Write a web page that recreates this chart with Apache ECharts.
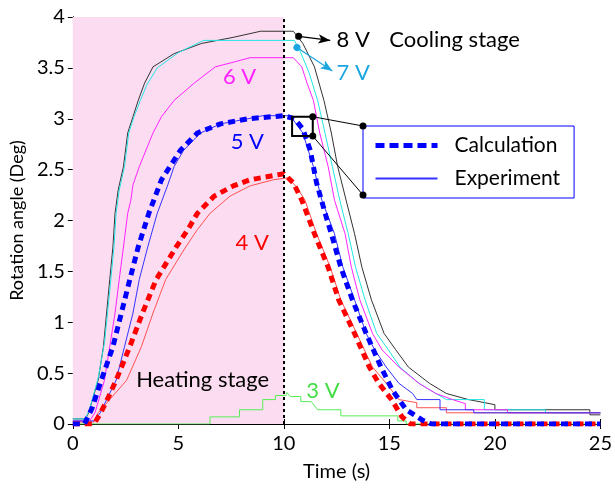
<!DOCTYPE html>
<html>
<head>
<meta charset="utf-8">
<script src="https://cdn.jsdelivr.net/npm/echarts@6/dist/echarts.min.js"></script>
<style>
html, body { margin: 0; padding: 0; background: #fff; }
#main { width: 615px; height: 493px; }
</style>
</head>
<body>
<div id="main"></div>
<script>
// measured curves, [time (s), angle (deg)]
var exp8V = [[0,0.05],[0.6,0.05],[0.75,0.11],[1.2,0.43],[1.45,0.76],[1.6,1.09],[1.75,1.42],[1.9,1.74],[2.0,2.07],[2.15,2.3],[2.4,2.53],[2.6,2.86],[2.85,3.02],[3.1,3.18],[3.4,3.35],[3.8,3.51],[4.8,3.64],[6.1,3.74],[7.6,3.8],[8.9,3.86],[10.45,3.86],[10.9,3.74],[11.45,3.51],[11.9,3.18],[12.25,2.86],[12.55,2.53],[12.95,2.2],[13.35,1.87],[13.7,1.54],[14.15,1.22],[14.75,0.89],[15.3,0.73],[15.9,0.56],[16.9,0.4],[17.7,0.3],[18.75,0.24],[20,0.19],[20,0.14],[24.5,0.14],[24.5,0.09],[25,0.09]];
var exp7V = [[0,0.05],[0.6,0.05],[0.8,0.15],[1.2,0.45],[1.5,0.8],[1.65,1.1],[1.8,1.42],[1.95,1.74],[2.05,2.07],[2.2,2.3],[2.45,2.53],[2.65,2.86],[2.9,3.02],[3.2,3.18],[3.5,3.33],[4.0,3.5],[5.0,3.65],[6.2,3.77],[10.5,3.77],[10.8,3.65],[11.2,3.45],[11.6,3.18],[11.95,2.86],[12.3,2.53],[12.65,2.2],[13.05,1.87],[13.4,1.54],[13.85,1.22],[14.4,0.89],[14.95,0.73],[15.5,0.56],[16.4,0.4],[17.2,0.3],[17.7,0.24],[19.5,0.24],[19.5,0.14],[22.4,0.14],[22.4,0.11],[25,0.11]];
var exp6V = [[0,0.03],[0.8,0.03],[1.05,0.11],[1.5,0.43],[1.75,0.76],[2.0,1.09],[2.2,1.42],[2.4,1.74],[2.6,2.07],[2.75,2.2],[2.85,2.35],[3.15,2.53],[3.8,2.86],[4.2,3.02],[4.8,3.18],[5.75,3.35],[6.75,3.51],[7.5,3.55],[8.4,3.6],[10.45,3.6],[10.85,3.51],[11.1,3.35],[11.4,3.18],[11.7,2.86],[12.1,2.53],[12.4,2.2],[12.9,1.87],[13.2,1.54],[13.6,1.22],[14.2,0.89],[14.65,0.73],[15.45,0.56],[16.4,0.4],[17.2,0.3],[18.0,0.24],[18.6,0.2],[18.6,0.14],[20.6,0.14],[20.6,0.11],[25,0.11]];
var exp5V = [[0,0.03],[1.0,0.03],[1.3,0.11],[2.05,0.43],[2.45,0.76],[2.85,1.09],[3.15,1.42],[3.55,1.74],[4.0,2.07],[4.5,2.35],[4.8,2.53],[5.25,2.69],[6.05,2.86],[7.0,2.95],[8.3,3.0],[9.0,3.03],[10.3,3.03],[10.9,2.86],[11.4,2.53],[11.8,2.2],[12.4,1.87],[12.8,1.54],[13.35,1.22],[13.9,0.89],[14.3,0.73],[14.85,0.56],[15.45,0.4],[16.1,0.3],[16.3,0.24],[17.4,0.24],[17.4,0.14],[19.0,0.14],[19.0,0.11],[25,0.11]];
var exp4V = [[0,0.02],[1.0,0.02],[1.2,0.11],[2.55,0.43],[3.25,0.76],[3.8,1.09],[4.4,1.42],[5.35,1.74],[5.9,1.91],[6.5,2.07],[7.45,2.24],[8.4,2.34],[9.5,2.4],[10.2,2.42],[10.6,2.33],[11.0,2.2],[11.55,1.87],[12.2,1.54],[12.7,1.22],[13.45,0.89],[14.2,0.56],[14.85,0.4],[15.45,0.24],[16.3,0.21],[16.3,0.16],[17.7,0.16],[17.7,0.11],[25,0.11]];
var exp3V = [[0,0],[6.5,0],[6.5,0.07],[7.9,0.07],[7.9,0.14],[9.0,0.14],[9.0,0.24],[9.6,0.24],[9.6,0.28],[10.1,0.28],[10.15,0.31],[10.3,0.27],[10.8,0.27],[10.8,0.22],[11.3,0.22],[11.6,0.14],[12.7,0.14],[12.7,0.08],[15.4,0.08],[15.4,0.03],[15.8,0.03],[15.8,0],[25,0]];
// calculated curves
var calc5V = [[0,0],[0.55,0],[0.9,0.15],[1.35,0.43],[1.9,0.76],[2.3,1.09],[2.7,1.42],[3.1,1.74],[3.6,2.07],[4.2,2.4],[4.6,2.53],[5.1,2.69],[5.9,2.86],[7.0,2.95],[8.3,3.0],[10,3.03],[10.5,3.0],[10.9,2.9],[11.25,2.69],[11.55,2.37],[12.0,2.04],[12.25,1.87],[12.7,1.54],[13.25,1.22],[13.9,0.89],[14.6,0.56],[15.15,0.33],[15.8,0.14],[16.55,0.04],[17,0],[25,0]];
var calc4V = [[0,0],[1.0,0],[1.3,0.1],[1.7,0.27],[2.05,0.43],[2.7,0.76],[3.3,1.09],[3.95,1.42],[4.9,1.74],[5.45,1.91],[5.9,2.07],[6.7,2.24],[7.6,2.34],[8.4,2.4],[10,2.46],[10.45,2.37],[10.85,2.2],[11.45,1.87],[12.1,1.54],[12.6,1.22],[13.35,0.89],[14.05,0.56],[14.5,0.4],[15.1,0.24],[15.6,0.07],[16,0],[25,0]];

var heatEnd = 10;
var zoomBox = [[10.39, 3.02], [11.37, 2.83]];

var chart = echarts.init(document.getElementById('main'));
var font = 'Lato';

function thin(name, color, data) {
    return {
        name: name, type: 'line', data: data, symbol: 'none', z: 3,
        lineStyle: { color: color, width: 1 }, itemStyle: { color: color }
    };
}
function dotted(name, color, data) {
    return {
        name: name, type: 'line', data: data, symbol: 'none', z: 4,
        lineStyle: { color: color, width: 5, type: [7, 5] }, itemStyle: { color: color }
    };
}

var series = [
    thin('3 V', '#55ee55', exp3V),
    thin('8 V', '#333333', exp8V),
    thin('7 V', '#22e5e5', exp7V),
    thin('6 V', '#ff22ff', exp6V),
    thin('4 V', '#ff5050', exp4V),
    thin('Experiment', '#3333ff', exp5V),
    dotted('4 V calc', '#ff0000', calc4V),
    dotted('Calculation', '#0000ff', calc5V)
];
series[0].markArea = {
    silent: true, itemStyle: { color: '#fcdcf0' },
    data: [[{ xAxis: 0 }, { xAxis: heatEnd }]]
};
series[0].markLine = {
    silent: true, symbol: 'none', label: { show: false },
    lineStyle: { color: '#000', width: 2, type: [3, 3] },
    data: [{ xAxis: heatEnd }]
};
// arrows from the 8 V and 7 V curves to their labels
series[1].markLine = {
    silent: true, symbol: ['circle', 'arrow'], symbolSize: [7, 12], label: { show: false },
    lineStyle: { color: '#000', width: 1.2, type: 'solid' },
    data: [[{ coord: [10.7, 3.81] }, { coord: [12.2, 3.77] }]]
};
series[2].markLine = {
    silent: true, symbol: ['circle', 'arrow'], symbolSize: [7, 12], label: { show: false },
    lineStyle: { color: '#1aa6e0', width: 1.2, type: 'solid' },
    data: [[{ coord: [10.62, 3.7] }, { coord: [12.3, 3.47] }]]
};

chart.setOption({
    animation: false,
    grid: { left: 71, right: 12, top: 17, bottom: 69 },
    xAxis: [{
        type: 'value', min: 0, max: 25, interval: 5,
        name: 'Time (s)', nameLocation: 'middle', nameGap: 38,
        nameTextStyle: { fontFamily: font, fontSize: 20, color: '#000' },
        axisLine: { lineStyle: { color: '#000', width: 1 } },
        axisTick: { inside: true, length: 5, lineStyle: { color: '#000' } },
        axisLabel: { fontFamily: font, fontSize: 20, color: '#000', margin: 10 },
        splitLine: { show: false }
    }, {
        type: 'value', min: 0, max: 25, interval: 5, position: 'top',
        axisLine: { lineStyle: { color: '#000', width: 1 } },
        axisTick: { inside: true, length: 5, lineStyle: { color: '#000' } },
        axisLabel: { show: false }, splitLine: { show: false }
    }],
    yAxis: [{
        type: 'value', min: 0, max: 4, interval: 0.5,
        name: 'Rotation angle (Deg)', nameLocation: 'middle', nameGap: 42,
        nameTextStyle: { fontFamily: font, fontSize: 18, color: '#000' },
        axisLine: { show: true, lineStyle: { color: '#000', width: 1 } },
        axisTick: { show: true, inside: true, length: 5, lineStyle: { color: '#000' } },
        axisLabel: { fontFamily: font, fontSize: 20, color: '#000', margin: 8 },
        splitLine: { show: false }
    }, {
        type: 'value', min: 0, max: 4, interval: 0.5, position: 'right',
        axisLine: { show: true, lineStyle: { color: '#000', width: 1 } },
        axisTick: { show: true, inside: true, length: 5, lineStyle: { color: '#000' } },
        axisLabel: { show: false }, splitLine: { show: false }
    }],
    legend: {
        data: [
            { name: 'Calculation', lineStyle: { width: 5, type: [9, 5] } },
            { name: 'Experiment' }
        ],
        orient: 'vertical', left: 363, top: 126,
        padding: [9, 14, 9, 10], itemGap: 12,
        itemWidth: 62, itemHeight: 14,
        itemStyle: { opacity: 0 },
        borderColor: '#0000ff', borderWidth: 1, backgroundColor: '#fff',
        textStyle: { fontFamily: font, fontSize: 21, color: '#000', padding: [0, 0, 0, 12] },
        selectedMode: false
    },
    series: series
});

// text labels and the zoom box, placed in data coordinates
function px(t, v) { return chart.convertToPixel({ gridIndex: 0 }, [t, v]); }
var notes = [
    ['8 V', 12.5, 3.77, '#000', 'left'],
    ['Cooling stage', 15.0, 3.77, '#000', 'left'],
    ['7 V', 12.5, 3.45, '#1aa6e0', 'left'],
    ['6 V', 7.9, 3.41, '#ff22ff', 'center'],
    ['5 V', 8.27, 2.77, '#0000ff', 'center'],
    ['4 V', 8.5, 1.78, '#ff0000', 'center'],
    ['3 V', 11.85, 0.33, '#44dd44', 'center'],
    ['Heating stage', 3.0, 0.43, '#000', 'left']
];
var graphics = notes.map(function (n) {
    var p = px(n[1], n[2]);
    return {
        type: 'text', x: p[0], y: p[1], z: 10,
        style: { text: n[0], fill: n[3], font: '22px ' + font, align: n[4], verticalAlign: 'middle' }
    };
});
var a = px(zoomBox[0][0], zoomBox[0][1]);
var b = px(zoomBox[1][0], zoomBox[1][1]);
graphics.push({
    type: 'rect', z: 10,
    shape: { x: a[0], y: a[1], width: b[0] - a[0], height: b[1] - a[1] },
    style: { fill: 'none', stroke: '#000', lineWidth: 2 }
});
var legendBox = [[363, 126], [363, 195]];
[[b[0], a[1], legendBox[0]], [b[0], b[1], legendBox[1]]].forEach(function (s) {
    graphics.push({ type: 'line', z: 10, shape: { x1: s[0], y1: s[1], x2: s[2][0], y2: s[2][1] }, style: { stroke: '#000', lineWidth: 1 } });
    graphics.push({ type: 'circle', z: 11, shape: { cx: s[0], cy: s[1], r: 3.5 }, style: { fill: '#000' } });
    graphics.push({ type: 'circle', z: 11, shape: { cx: s[2][0], cy: s[2][1], r: 3.5 }, style: { fill: '#000' } });
});
chart.setOption({ graphic: graphics });
</script>
</body>
</html>
